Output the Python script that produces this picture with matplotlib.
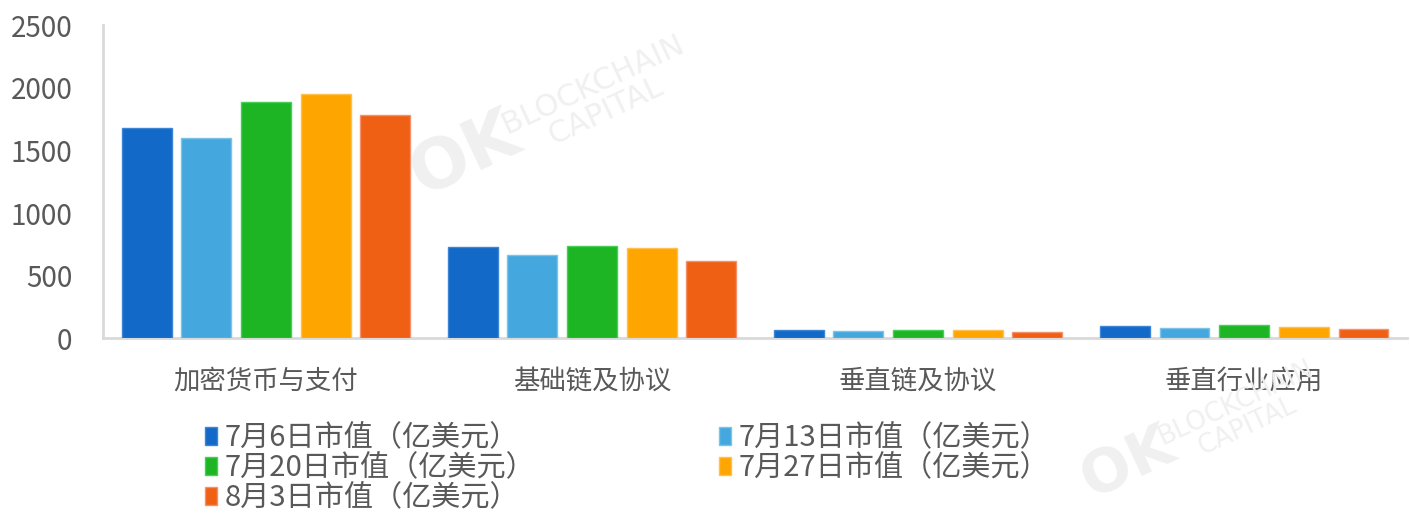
import matplotlib
matplotlib.use('Agg')
import matplotlib.pyplot as plt
import numpy as np

plt.rcParams['font.family'] = ['Noto Sans CJK SC', 'DejaVu Sans']

categories = ['加密货币与支付', '基础链及协议', '垂直链及协议', '垂直行业应用']
series_names = ['7月6日市值（亿美元）', '7月13日市值（亿美元）', '7月20日市值（亿美元）',
                '7月27日市值（亿美元）', '8月3日市值（亿美元）']
jul06 = [1680, 730, 66, 98]
jul13 = [1600, 664, 58, 80]
jul20 = [1888, 736, 66, 104]
jul27 = [1952, 718, 66, 90]
aug03 = [1784, 613, 50, 74]
series = [jul06, jul13, jul20, jul27, aug03]
colors = ['#1269C7', '#44A8DF', '#1DB524', '#FFA500', '#F06014']
edges = ['#3d86d6', '#7cc3ea', '#45cf55', '#ffc04d', '#f5926a']

fig = plt.figure(figsize=(14.1, 5.14), dpi=100)
ax = fig.add_axes([0.073, 0.342, 0.925, 0.609])

# faint watermarks
for (x, y, s) in [(0.33, 0.70, 1.0), (0.80, 0.10, 0.85)]:
    fig.text(x, y, 'OK', fontsize=50 * s, fontweight='bold', color='#f0f0f0', rotation=25,
             ha='center', va='center', zorder=0, family='DejaVu Sans')
    fig.text(x + 0.095 * s, y + 0.11 * s, 'BLOCKCHAIN\nCAPITAL', fontsize=22 * s, color='#f0f0f0',
             rotation=25, ha='center', va='center', zorder=0, family='DejaVu Sans',
             linespacing=1.0)

x = np.arange(len(categories))
step = 0.183
width = 0.153
bars = []
for i, (vals, c, e) in enumerate(zip(series, colors, edges)):
    b = ax.bar(x + (i - 2) * step, vals, width, color=c, edgecolor=e, linewidth=1.0,
               label=series_names[i], zorder=3)
    bars.append(b)

ax.set_xlim(-0.5, len(categories) - 0.5)
ax.set_ylim(0, 2500)
ax.set_yticks([0, 500, 1000, 1500, 2000, 2500])
ax.set_xticks(x)
ax.set_xticklabels(categories, fontsize=19)
ax.tick_params(axis='both', length=0, colors='#595959')
ax.tick_params(axis='y', pad=22, labelsize=20)
ax.tick_params(axis='x', pad=21)
for s in ['top', 'right']:
    ax.spines[s].set_visible(False)
for s in ['left', 'bottom']:
    ax.spines[s].set_color('#d9d9d9')
    ax.spines[s].set_linewidth(2)
ax.patch.set_alpha(0)

order = [0, 2, 4, 1, 3]
leg = fig.legend([bars[i] for i in order], [series_names[i] for i in order],
                 ncol=2, loc='upper left', bbox_to_anchor=(0.135, 0.205),
                 frameon=False, fontsize=21, handlelength=0.42, handleheight=0.6,
                 handletextpad=0.25, labelspacing=0.0, columnspacing=6.3,
                 borderpad=0)
for t in leg.get_texts():
    t.set_color('#595959')

fig.savefig('out.png', dpi=100)
